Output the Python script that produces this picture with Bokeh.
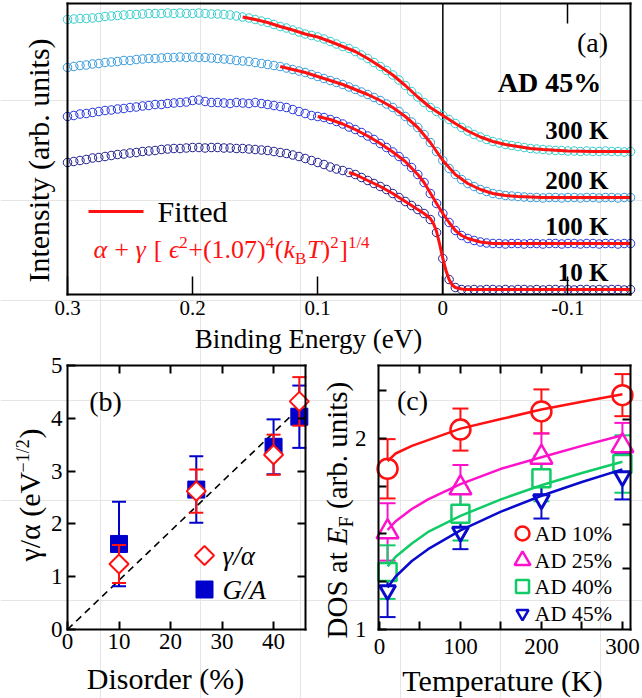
import numpy as np
from bokeh.plotting import figure
from bokeh.models import Range1d, LinearAxis, FixedTicker, Label
from bokeh.embed import file_html
from bokeh.resources import INLINE

SERIF = "Liberation Serif"

# ---------------- Panel (a): spectra (arb. units) ----------------
energy = np.round(np.linspace(0.30, -0.15, 91), 3)
int_10K = [132, 133, 134, 135, 136.5, 137, 138, 139, 140, 140.5,
           141.5, 142, 143, 143.5, 144, 145, 145.5, 146, 146, 146.5,
           147, 147, 146.5, 147, 147, 146.5, 146.5, 146, 146, 145.5,
           145, 144.5, 144, 143, 142, 141, 139.5, 138, 136, 134,
           132, 130, 127.5, 125.5, 124, 122, 120, 117, 114, 111,
           108, 105, 101, 97, 93, 89, 85, 81, 75, 62,
           36, 15, 7, 5, 4.5, 5, 4.5, 5, 5, 4.5,
           5, 4.5, 5, 5, 4.5, 5, 4.5, 5, 5, 4.5,
           5, 4.5, 5, 5, 4.5, 5, 4.5, 5, 5, 4.5,
           5]
int_100K = [178, 179, 180.5, 181, 182, 183, 184, 184.5, 185.5, 186,
            187, 187.5, 188.5, 189, 190, 190, 191, 191.5, 192, 192.5,
            194, 194.5, 193, 192, 192, 191.5, 191, 192, 191.5, 191,
            192, 191, 190, 189, 188, 187, 185, 183, 181, 179,
            178, 177, 175, 173, 170.5, 167.5, 165, 162, 158.5, 155,
            151, 147, 142.5, 138, 133, 127, 120, 112, 101, 91,
            81, 72, 64, 59, 56, 54, 52.5, 51.5, 51, 51,
            50.5, 51, 51, 50.5, 51, 51, 50.5, 51, 51, 50.5,
            51, 51, 50.5, 51, 51, 50.5, 51, 51, 50.5, 51,
            51]
int_200K = [227, 228, 229, 229.5, 230.5, 231, 232, 232.5, 233, 234,
            234, 235, 235.5, 236, 236, 236.5, 237, 237, 237.5, 237,
            237.5, 237, 237, 236.5, 236, 235.5, 235, 234, 233.5, 233,
            232, 231, 230, 229, 228, 226.5, 225, 223.5, 222, 220,
            218, 216, 214, 212, 210, 207.5, 205, 202.5, 200, 197,
            194, 190.5, 187, 183, 178, 172.5, 167, 160, 152, 143,
            134, 126, 120, 115, 111, 108, 105, 103, 101, 100,
            99, 98.5, 98, 97.5, 97, 97, 96.5, 97, 97, 96.5,
            97, 97, 96.5, 97, 97, 96.5, 97, 97, 96.5, 97,
            97]
int_300K = [275, 275.5, 276, 276, 276.5, 277, 278, 278.5, 279, 279.5,
            280, 280, 280.5, 281, 281, 281, 281.5, 281, 281.5, 281,
            281, 281.5, 281, 280.5, 280.5, 280, 279.5, 278.5, 277.5, 276.5,
            275, 273.5, 272, 270, 268, 266.5, 264.5, 262.5, 260.5, 259,
            257.5, 255.5, 253, 250.5, 248, 246, 243, 239.5, 236, 232,
            228, 224, 219.5, 214.5, 209, 203, 197.5, 192, 187, 183,
            179, 175, 171, 167, 163.5, 160, 157.5, 155, 153, 151.5,
            150, 149, 148, 147, 146, 145.5, 145, 144.5, 144, 144,
            143.5, 143.5, 143, 143.5, 143, 143, 143.5, 143, 143, 142.5,
            143]

fit_10K_e = [0.075, 0.07, 0.06, 0.05, 0.04, 0.03, 0.02, 0.015, 0.01, 0.0075, 0.005,
             0.0025, 0.0, -0.0025, -0.005, -0.0075, -0.01, -0.015, -0.02, -0.05, -0.1, -0.15]
fit_10K_i = [122, 120, 114, 108, 101, 93, 85, 81, 76, 71, 63,
             50, 36, 24, 15, 9.5, 7, 5.5, 5, 5, 5, 5]
fit_100K_e = [0.10, 0.09, 0.08, 0.07, 0.06, 0.05, 0.04, 0.03, 0.02, 0.015, 0.01,
              0.005, 0.0, -0.005, -0.01, -0.015, -0.02, -0.03, -0.04, -0.06, -0.1, -0.15]
fit_100K_i = [178, 175, 170.5, 165, 158.5, 151, 142.5, 133, 120, 112, 101.5,
              91, 81, 72, 64, 59, 56, 52.5, 51, 51, 51, 51]
fit_200K_e = [0.13, 0.12, 0.11, 0.10, 0.09, 0.08, 0.07, 0.06, 0.05, 0.04, 0.03, 0.02,
              0.01, 0.0, -0.01, -0.02, -0.03, -0.04, -0.05, -0.06, -0.08, -0.10, -0.15]
fit_200K_i = [228, 225, 222, 218, 214, 210, 205, 200, 194, 187, 178, 167,
              152, 134, 120, 111, 105, 101, 99, 98, 97, 97, 97]
fit_300K_e = [0.16, 0.15, 0.14, 0.13, 0.12, 0.11, 0.10, 0.09, 0.08, 0.07, 0.06, 0.05, 0.04,
              0.03, 0.02, 0.01, 0.0, -0.01, -0.02, -0.03, -0.04, -0.05, -0.06, -0.07, -0.08,
              -0.10, -0.12, -0.15]
fit_300K_i = [277.5, 275, 272, 268, 264.5, 260.5, 257.5, 253, 248, 243, 236, 228, 219.5,
              209, 197.5, 187, 179, 171, 163.5, 157.5, 153, 150, 148, 146, 145,
              143.5, 143, 143]
e_ticks = [0.3, 0.2, 0.1, 0, -0.1]
e_tick_labels = ["0.3", "0.2", "0.1", "0", "-0.1"]

# ---------------- Panel (b) ----------------
disorder = [10, 25, 40, 45]
gamma_alpha = [1.24, 2.62, 3.31, 4.32]
gamma_alpha_err = [0.36, 0.41, 0.38, 0.46]
G_over_A = [1.62, 2.65, 3.46, 4.03]
G_over_A_err = [0.80, 0.63, 0.52, 0.59]
guide_x = [0, 44.3]
guide_y = [0, 4.13]

# ---------------- Panel (c) ----------------
temps = [10, 100, 200, 300]
dos_10 = [1.84, 2.045, 2.14, 2.225]
err_10 = [0.155, 0.11, 0.115, 0.11]
dos_25 = [1.51, 1.74, 1.90, 1.96]
err_25 = [0.15, 0.12, 0.125, 0.12]
dos_40 = [1.30, 1.605, 1.79, 1.865]
err_40 = [0.14, 0.14, 0.12, 0.15]
dos_45 = [1.205, 1.51, 1.68, 1.80]
err_45 = [0.14, 0.09, 0.10, 0.12]
t_fit = [10, 20, 40, 60, 100, 150, 200, 250, 300]
fit_10 = [1.88, 1.92, 1.96, 1.99, 2.05, 2.10, 2.15, 2.19, 2.23]
fit_25 = [1.52, 1.566, 1.63, 1.68, 1.76, 1.84, 1.90, 1.96, 2.015]
fit_40 = [1.33, 1.38, 1.45, 1.51, 1.594, 1.68, 1.754, 1.818, 1.877]
fit_45 = [1.22, 1.277, 1.358, 1.42, 1.518, 1.616, 1.699, 1.771, 1.837]
legend_c = ["AD 10%", "AD 25%", "AD 40%", "AD 45%"]

# ---------------- one canvas, page-pixel default ranges ----------------
W, H = 642, 698
p = figure(width=W, height=H, x_range=Range1d(0, W), y_range=Range1d(H, 0),
           output_backend="svg", toolbar_location=None,
           x_axis_location=None, y_axis_location=None,
           min_border_left=0, min_border_right=0, min_border_top=0, min_border_bottom=0)
p.outline_line_color = None
p.background_fill_color = "white"
p.border_fill_color = "white"

# panel boxes in page pixels (left, right, bottom, top) and their data limits
BOX = {"a": (67, 630, 294, 3), "b": (67, 305, 629, 365), "c": (378, 630, 629, 365)}
LIM = {"a": (0.3, -0.15, 0, 291), "b": (0, 46.2, 0, 5), "c": (-1.2, 310, 1.0, 2.38)}

for name in BOX:
    l, r, b, t = BOX[name]
    x0, x1, y0, y1 = LIM[name]
    sx = (x1 - x0) / (r - l)
    sy = (y1 - y0) / (t - b)
    p.extra_x_ranges[name] = Range1d(x0 - l * sx, x0 + (W - l) * sx)
    p.extra_y_ranges[name] = Range1d(y0 + (H - b) * sy, y0 - b * sy)


def axis(name, side, ticks, tick_len, font_px=None, standoff=5, labels=None, tick_w=2):
    x0, x1, y0, y1 = LIM[name]
    if side in ("below", "above"):
        loc = y0 if side == "below" else y1
        bounds = (min(x0, x1), max(x0, x1))
    else:
        loc = x0 if side == "left" else x1
        bounds = (min(y0, y1), max(y0, y1))
    ax = LinearAxis(x_range_name=name, y_range_name=name, fixed_location=loc, bounds=bounds,
                    ticker=FixedTicker(ticks=ticks))
    ax.axis_line_color = "black"
    ax.axis_line_width = 2
    ax.axis_line_cap = "square"
    ax.major_tick_in = tick_len
    ax.major_tick_out = 0
    ax.major_tick_line_width = tick_w
    ax.minor_tick_line_color = None
    if font_px is None:
        ax.major_label_text_font_size = "1px"
        ax.major_label_standoff = 0
        ax.major_label_overrides = {t: "" for t in ticks}
    else:
        ax.major_label_text_font = SERIF
        ax.major_label_text_font_size = f"{font_px}px"
        ax.major_label_standoff = standoff
        ax.major_label_text_color = "black"
        if labels is not None:
            ax.major_label_overrides = {t: s for t, s in zip(ticks, labels)}
    p.add_layout(ax, side)
    return ax


def put(px, py, text, size, style="normal", color="black", align="left", angle=0.0):
    """(px, py) is the centre line of the text (middle anchoring)."""
    p.add_layout(Label(x=px, y=py, text=text, text_font=SERIF, text_font_size=f"{size}px",
                       text_font_style=style, text_color=color, text_align=align,
                       text_baseline="middle", angle=angle))


def put_base(px, py, text, size, **kw):
    """Horizontal text whose baseline sits at py."""
    put(px, py - 0.335 * size, text, size, **kw)


def put_rot(bx, py, text, size, **kw):
    """Text rotated to read upward, baseline at x = bx, starting at py."""
    put(bx - 0.335 * size, py, text, size, angle=np.pi / 2, **kw)


RED = "#ff1111"

# ======================= Panel (a) =======================
axis("a", "below", e_ticks, 18, 21, 6, e_tick_labels, tick_w=1.5)
axis("a", "above", [-0.1], 20, tick_w=1.5)
axis("a", "left", [], 0)
axis("a", "right", [], 0)
A = dict(x_range_name="a", y_range_name="a")
p.segment([0], [LIM["a"][2]], [0], [LIM["a"][3]], line_color="black", line_width=1.5, **A)

curves = [(int_300K, "#33cccc", fit_300K_e, fit_300K_i),
          (int_200K, "#3399dd", fit_200K_e, fit_200K_i),
          (int_100K, "#2233dd", fit_100K_e, fit_100K_i),
          (int_10K, "#1c1c8c", fit_10K_e, fit_10K_i)]
for vals, col, _, _ in curves:
    p.scatter(energy, vals, marker="circle", size=8.5, line_color=col, line_width=1,
              fill_alpha=0, **A)
for _, _, fe, fi in curves:
    p.line(fe, fi, line_color=RED, line_width=3, **A)

# legend key
p.line([88, 143], [211, 211], line_color=RED, line_width=3)
put(157, 211, "Fitted", 30)

# formula  α + γ [ϵ² + (1.07)⁴ (k_B T)²]^(1/4)
mb, sb, bb = 258, 248, 264
pieces = [("α", 93, mb, 26, "italic"), ("+", 113.8, mb, 26, "normal"),
          ("γ", 135, mb, 26, "italic"), ("[", 153.2, mb, 26, "normal"),
          ("ϵ", 168.4, mb, 26, "italic"), ("2", 178.8, sb, 17, "normal"),
          ("+(1.07)", 187.8, mb, 26, "normal"), ("4", 265.3, sb, 17, "normal"),
          ("(", 274.3, mb, 26, "normal"), ("k", 283, mb, 26, "italic"),
          ("B", 294.5, bb, 17, "normal"), ("T", 306.5, mb, 26, "italic"),
          (")", 321, mb, 26, "normal"), ("2", 329.7, sb, 17, "normal"),
          ("]", 338.7, mb, 26, "normal"), ("1/4", 347.4, sb, 17, "normal")]
for t, px, py, sz, st in pieces:
    put_base(px, py, t, sz, style=st, color=RED)

put(592, 42, "(a)", 28, align="center")
put(549, 82, "AD 45%", 28, style="bold", align="center")
for txt, py in [("300 K", 130), ("200 K", 180), ("100 K", 226), ("10 K", 272)]:
    put(608, py, txt, 25, style="bold", align="right")

put(38, 160, "Intensity (arb. units)", 30, align="center", angle=np.pi / 2)
put_base(308, 348, "Binding Energy (eV)", 27, align="center")

# ======================= Panel (b) =======================
axis("b", "below", [0, 10, 20, 30, 40], 8, 23, 4)
axis("b", "left", [0, 1, 2, 3, 4, 5], 8, 23, 5)
axis("b", "above", [10, 20, 30, 40], 8)
axis("b", "right", [1, 2, 3, 4], 8)
B = dict(x_range_name="b", y_range_name="b")

p.line(guide_x, guide_y, line_color="black", line_width=1.6, line_dash="7 5", **B)

BLUE_B = "#0000cc"
ga_lo = [v - e for v, e in zip(G_over_A, G_over_A_err)]
ga_hi = [v + e for v, e in zip(G_over_A, G_over_A_err)]
p.segment(disorder, ga_lo, disorder, ga_hi, line_color=BLUE_B, line_width=2, **B)
p.scatter(disorder, ga_lo, marker="dash", size=14, line_color=BLUE_B, line_width=2, **B)
p.scatter(disorder, ga_hi, marker="dash", size=14, line_color=BLUE_B, line_width=2, **B)
p.scatter(disorder, G_over_A, marker="square", size=17, line_color=BLUE_B,
          fill_color=BLUE_B, line_width=1, **B)

gr_lo = [v - e for v, e in zip(gamma_alpha, gamma_alpha_err)]
gr_hi = [v + e for v, e in zip(gamma_alpha, gamma_alpha_err)]
p.segment(disorder, gr_lo, disorder, gr_hi, line_color=RED, line_width=2, **B)
p.scatter(disorder, gr_lo, marker="dash", size=14, line_color=RED, line_width=2, **B)
p.scatter(disorder, gr_hi, marker="dash", size=14, line_color=RED, line_width=2, **B)
p.scatter(disorder, gamma_alpha, marker="square", angle=np.pi / 4, size=13.5,
          line_color=RED, fill_color="white", line_width=2, **B)

# legend keys (page pixels)
p.scatter([204], [555], marker="square", angle=np.pi / 4, size=13.5,
          line_color=RED, fill_color="white", line_width=2)
p.scatter([204], [589], marker="square", size=17, line_color=BLUE_B, fill_color=BLUE_B)
put(222, 555, "γ/α", 27, style="italic")
put(222, 589, "G/A", 27, style="italic")
put(105, 401, "(b)", 28, align="center")

put_base(165, 688, "Disorder (%)", 30, align="center")
put_rot(39, 561, "γ/α (eV", 30)
put_rot(29, 472, "−1/2", 18)
put_rot(39, 438, ")", 30)

# ======================= Panel (c) =======================
axis("c", "below", [0, 50, 100, 150, 200, 250, 300], 8, 23, 9,
     ["0", "", "100", "", "200", "", "300"])
axis("c", "left", [1, 1.25, 1.5, 1.75, 2, 2.25], 8, 23, 12, ["1", "", "", "", "2", ""])
axis("c", "above", [50, 100, 150, 200, 250], 8)
axis("c", "right", [1.32, 1.55, 2.10], 8)
C = dict(x_range_name="c", y_range_name="c")

series_c = [(dos_10, err_10, fit_10, "#ff1111", "circle", 20, 2.5),
            (dos_25, err_25, fit_25, "#ff11cc", "triangle", 22, 2.5),
            (dos_40, err_40, fit_40, "#11cc66", "square", 18, 2.5),
            (dos_45, err_45, fit_45, "#0a0acc", "inverted_triangle", 16, 3)]
for vals, errs, _, col, mk, sz, lw in series_c:
    lo = [v - e for v, e in zip(vals, errs)]
    hi = [v + e for v, e in zip(vals, errs)]
    p.segment(temps, lo, temps, hi, line_color=col, line_width=2, **C)
    p.scatter(temps, lo, marker="dash", size=16, line_color=col, line_width=2, **C)
    p.scatter(temps, hi, marker="dash", size=16, line_color=col, line_width=2, **C)
for vals, errs, _, col, mk, sz, lw in series_c:
    p.scatter(temps, vals, marker=mk, size=sz, line_color=col, fill_color="white",
              line_width=lw, **C)
for vals, errs, fit, col, mk, sz, lw in series_c:
    p.line(t_fit, fit, line_color=col, line_width=2.5, **C)

key_rows = [533, 560, 586, 613]
key_sizes = [14, 16, 13, 12]
for (vals, errs, fit, col, mk, sz, lw), py, ks, txt in zip(series_c, key_rows, key_sizes, legend_c):
    p.scatter([522], [py], marker=mk, size=ks, line_color=col, fill_color="white",
              line_width=2.5)
    put(534, py, txt, 22)

put(412, 400, "(c)", 28, align="center")
put_base(502, 690, "Temperature (K)", 30, align="center")
put_rot(346, 638, "DOS at", 29)
put_rot(346, 544.6, "E", 29, style="italic")
put_rot(352, 526.9, "F", 20)
put_rot(346, 508.5, "(arb. units)", 29)

open("out.html", "w").write(file_html(p, INLINE))
